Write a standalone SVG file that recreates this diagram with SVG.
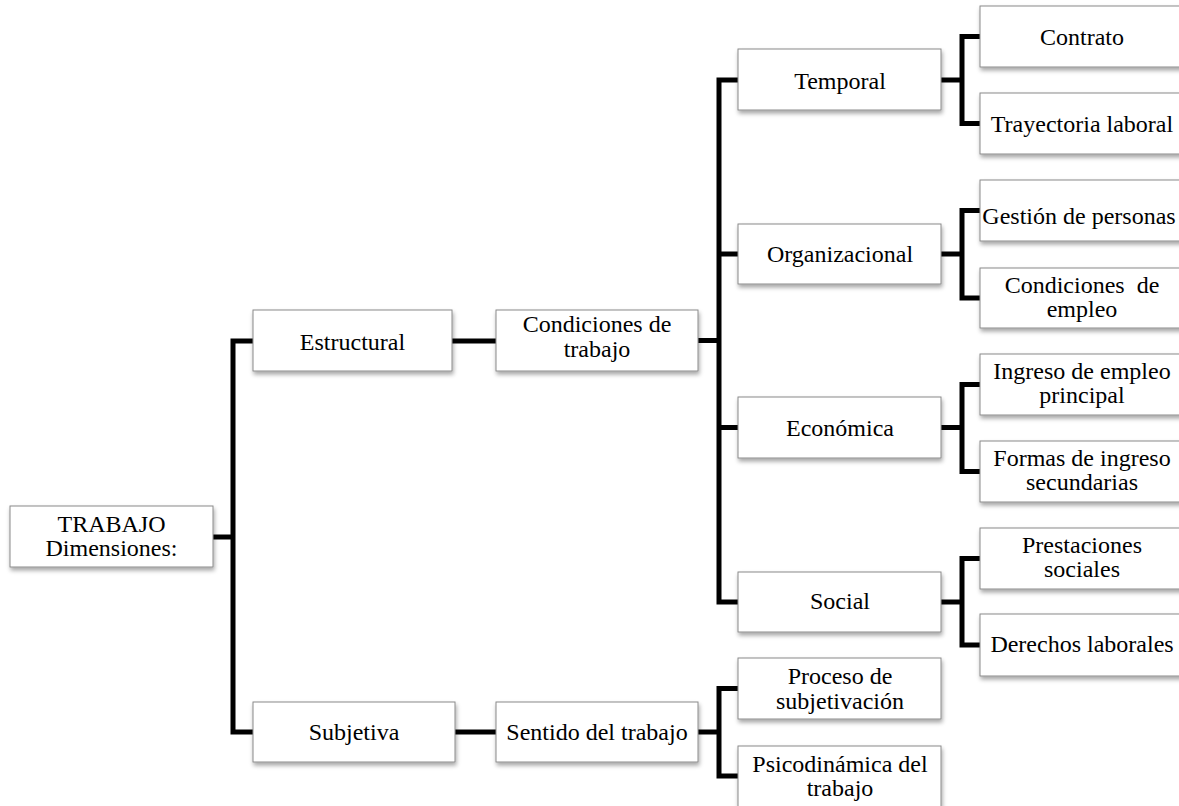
<svg xmlns="http://www.w3.org/2000/svg" width="1179" height="806" viewBox="0 0 1179 806">
<defs>
<filter id="sh" x="-10%" y="-20%" width="130%" height="160%">
<feDropShadow dx="1" dy="3" stdDeviation="2" flood-color="#000" flood-opacity="0.35"/>
</filter>
</defs>
<style>
.b{fill:#fff;stroke:#8a8a8a;stroke-width:1;filter:url(#sh)}
.t{font-family:"Liberation Serif","Times New Roman",serif;font-size:24px;fill:#000;text-anchor:middle;white-space:pre}
.c{fill:none;stroke:#000;stroke-width:5;stroke-linejoin:miter;stroke-linecap:butt}
</style>
<rect width="1179" height="806" fill="#fff"/>
<g id="connectors">
<path class="c" d="M213 537H233"/>
<path class="c" d="M253 341H233V732H253"/>
<path class="c" d="M452 341H496"/>
<path class="c" d="M455 732H496"/>
<path class="c" d="M698 340.5H719"/>
<path class="c" d="M738 80H719V602H738"/>
<path class="c" d="M719 254H738"/>
<path class="c" d="M719 427.5H738"/>
<path class="c" d="M941 80H962"/>
<path class="c" d="M980 36.5H962V123.5H980"/>
<path class="c" d="M941 254H962"/>
<path class="c" d="M980 210.5H962V298H980"/>
<path class="c" d="M941 427.5H962"/>
<path class="c" d="M980 384.5H962V471.5H980"/>
<path class="c" d="M941 602H962"/>
<path class="c" d="M980 558.5H962V645H980"/>
<path class="c" d="M698 732H719"/>
<path class="c" d="M738 688.5H719V776H738"/>
</g>
<g id="trabajo"><rect class="b" x="10" y="506" width="203" height="61"/><text class="t" x="111.5" y="531.5">TRABAJO</text><text class="t" x="111.5" y="556">Dimensiones:</text></g>
<g id="estructural"><rect class="b" x="253" y="310" width="199" height="61"/><text class="t" x="352.5" y="350">Estructural</text></g>
<g id="subjetiva"><rect class="b" x="253" y="702" width="202" height="60"/><text class="t" x="354" y="740">Subjetiva</text></g>
<g id="condiciones-trabajo"><rect class="b" x="496" y="310" width="202" height="61"/><text class="t" x="597" y="332">Condiciones de</text><text class="t" x="597" y="356.5">trabajo</text></g>
<g id="sentido"><rect class="b" x="496" y="702" width="202" height="60"/><text class="t" x="597" y="740">Sentido del trabajo</text></g>
<g id="temporal"><rect class="b" x="738" y="49" width="203" height="61"/><text class="t" x="840" y="89">Temporal</text></g>
<g id="organizacional"><rect class="b" x="738" y="224" width="203" height="60"/><text class="t" x="840" y="261.5">Organizacional</text></g>
<g id="economica"><rect class="b" x="738" y="397" width="203" height="61"/><text class="t" x="840" y="436">Económica</text></g>
<g id="social"><rect class="b" x="738" y="572" width="203" height="60"/><text class="t" x="840" y="609">Social</text></g>
<g id="proceso"><rect class="b" x="738" y="658" width="203" height="61"/><text class="t" x="840" y="684">Proceso de</text><text class="t" x="840" y="709">subjetivación</text></g>
<g id="psicodinamica"><rect class="b" x="738" y="746" width="203" height="61"/><text class="t" x="840" y="771.5">Psicodinámica del</text><text class="t" x="840" y="796">trabajo</text></g>
<g id="contrato"><rect class="b" x="980" y="6" width="204" height="61"/><text class="t" x="1082" y="44.5">Contrato</text></g>
<g id="trayectoria"><rect class="b" x="980" y="93" width="204" height="61"/><text class="t" x="1082" y="131.5">Trayectoria laboral</text></g>
<g id="gestion"><rect class="b" x="980" y="180" width="204" height="61"/><text class="t" x="1079" y="224">Gestión de personas</text></g>
<g id="condiciones-empleo"><rect class="b" x="980" y="268" width="204" height="60"/><text class="t" x="1082" y="293">Condiciones  de</text><text class="t" x="1082" y="317">empleo</text></g>
<g id="ingreso"><rect class="b" x="980" y="354" width="204" height="61"/><text class="t" x="1082" y="379">Ingreso de empleo</text><text class="t" x="1082" y="403">principal</text></g>
<g id="formas"><rect class="b" x="980" y="441" width="204" height="61"/><text class="t" x="1082" y="466">Formas de ingreso</text><text class="t" x="1082" y="490">secundarias</text></g>
<g id="prestaciones"><rect class="b" x="980" y="528" width="204" height="61"/><text class="t" x="1082" y="553">Prestaciones</text><text class="t" x="1082" y="577">sociales</text></g>
<g id="derechos"><rect class="b" x="980" y="614" width="204" height="62"/><text class="t" x="1082" y="652">Derechos laborales</text></g>
</svg>
